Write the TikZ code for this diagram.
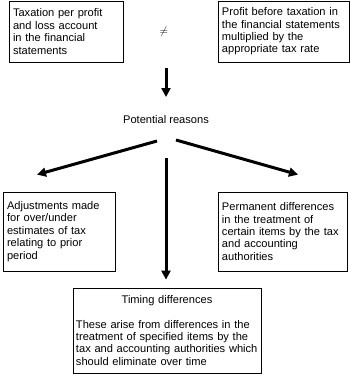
\documentclass[tikz,border=0pt]{standalone}
\usepackage{fontspec}
\setmainfont{Liberation Sans}
\usetikzlibrary{arrows.meta, calc}

\begin{document}
\begin{tikzpicture}[
    x=1pt, y=1pt,
    every node/.style={font=\fontsize{11.1}{12.4}\selectfont},
    textbox/.style={draw, line width=0.8pt, inner xsep=4pt, align=left},
    arrow/.style={-{Triangle[length=9pt, width=9pt]}, line width=3pt}
]
\useasboundingbox (0,0) rectangle (350,-376);

% Top: the two figures that are compared
\node[textbox, text width=106pt, minimum height=61pt] (taxpl) at (66,-31.5)
    {Taxation per profit\\ and loss account\\ in the financial\\ statements};
\node[textbox, text width=123pt, minimum height=61pt] (profit) at (283.5,-31.5)
    {Profit before taxation in\\ the financial statements\\ multiplied by the\\ appropriate tax rate};
\node (neq) at (164,-32) {$\neq$};

% Middle
\node (reasons) at (166,-120) {Potential reasons};

% Reasons
\node[textbox, text width=104pt, minimum height=79pt] (adjust) at (59,-231.5)
    {Adjustments made\\ for over/under\\ estimates of tax\\ relating to prior\\ period};
\node[textbox, text width=121pt, minimum height=79pt] (permanent) at (282.5,-231.5)
    {Permanent differences\\ in the treatment of\\ certain items by the tax\\ and accounting\\ authorities};
\node[textbox, inner xsep=3pt, text width=182pt, minimum height=85pt] (timing) at (167,-330.5)
    {\makebox[182pt][c]{Timing differences}\\[12pt]
     These arise from differences in the\\ treatment of specified items by the\\
     tax and accounting authorities which\\ should eliminate over time};

% ARROWS
\draw[arrow] ($(neq)+(2,-36)$) -- ($(reasons)+(0,23)$);
\draw[arrow] ($(reasons)+(-9,-21)$) -- ($(adjust.north)+(-22,17)$);
\draw[arrow] ($(reasons)+(10,-20)$) -- ($(permanent.north)+(15.5,17)$);
\draw[arrow] ($(reasons)+(0,-38)$) -- ($(timing.north)+(-1,8)$);

\end{tikzpicture}
\end{document}
